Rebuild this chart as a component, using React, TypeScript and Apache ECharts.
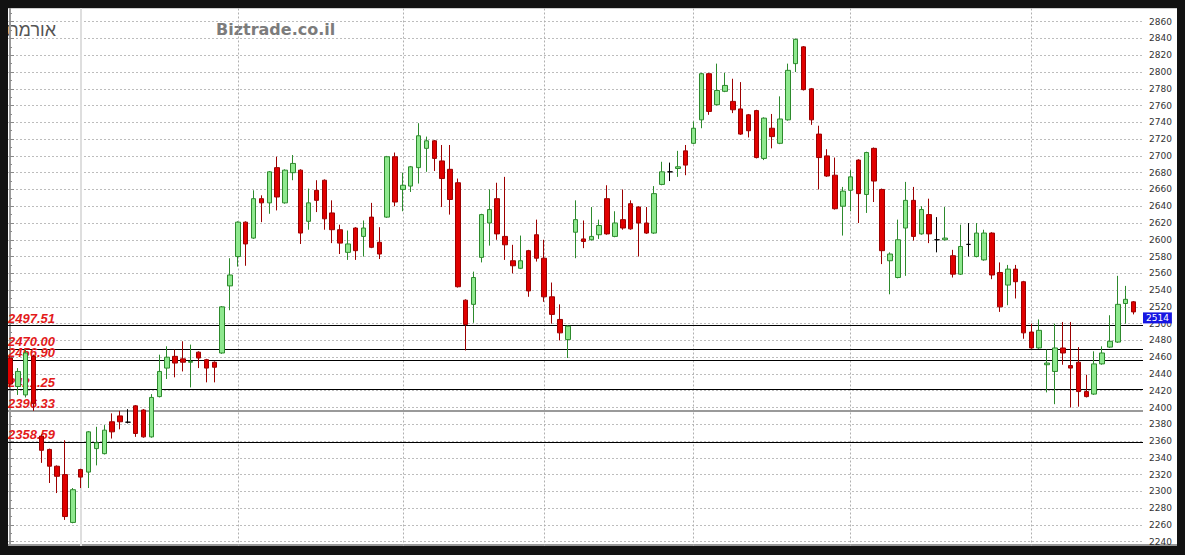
import { useEffect, useRef } from 'react';
import * as echarts from 'echarts';

// Daily candles, oldest first
const opens = [
  2459, 2425, 2415, 2461, 2366, 2350, 2330, 2320, 2263, 2326,
  2323, 2351, 2345, 2383, 2390, 2382.5, 2402, 2397, 2365, 2413,
  2447, 2461, 2458, 2454, 2466, 2457, 2454, 2465, 2545, 2580,
  2621, 2602, 2649, 2644, 2686, 2644, 2680, 2683, 2622, 2659,
  2671, 2632, 2612, 2585, 2614, 2604, 2627, 2597, 2627, 2699,
  2660, 2664, 2686, 2709, 2718, 2694, 2684, 2668, 2528, 2523,
  2579, 2620, 2649, 2604, 2575, 2566, 2587, 2606, 2578, 2532,
  2505, 2481, 2609, 2601, 2600, 2606, 2649, 2604, 2624, 2643,
  2639, 2620, 2608, 2666, 2681, 2685, 2706, 2715, 2743, 2798,
  2761, 2777, 2765, 2756, 2749, 2754, 2697, 2733, 2715, 2743,
  2810, 2830, 2780, 2726, 2700, 2677, 2640, 2659, 2695, 2654,
  2709, 2660, 2575, 2555, 2614, 2647, 2607, 2630, 2600, 2600,
  2581, 2559, 2594.5, 2580, 2576, 2608, 2561, 2546, 2565, 2550,
  2490, 2471, 2451, 2443, 2471, 2450, 2454, 2419, 2416, 2452,
  2472, 2478, 2524, 2526,
];
const closes = [
  2428, 2443, 2465, 2405, 2349, 2330, 2318, 2270, 2302, 2317,
  2371, 2358, 2373, 2371, 2383, 2382.5, 2369, 2365, 2412, 2443,
  2460, 2453, 2454, 2455, 2459, 2447, 2448, 2520, 2558, 2621,
  2595, 2649, 2644, 2681, 2651, 2683, 2691, 2608, 2644, 2647,
  2625, 2612, 2596, 2595, 2587, 2614, 2591, 2583, 2699, 2645,
  2665, 2687, 2724, 2718, 2697, 2673, 2648, 2544, 2499, 2555,
  2630, 2636, 2607, 2594, 2569, 2575, 2539, 2578, 2532, 2511,
  2489, 2497, 2624, 2598, 2604, 2617, 2607, 2620, 2614, 2613,
  2620, 2608, 2655, 2681, 2681, 2687, 2689, 2733, 2798, 2753,
  2778, 2784, 2755, 2726, 2730, 2698, 2745, 2723, 2744, 2802,
  2839, 2779, 2743, 2698, 2676, 2637, 2658, 2675, 2655, 2704,
  2670, 2587, 2583, 2600, 2647, 2604, 2636, 2607, 2600, 2602,
  2559, 2592, 2594.5, 2608, 2608, 2558, 2520, 2565, 2550, 2489,
  2471, 2492, 2453, 2471, 2465, 2447, 2419, 2413, 2452, 2465,
  2479, 2523, 2529, 2514,
];
const lows = [
  2424, 2415, 2412, 2396, 2334, 2310, 2298, 2266, 2262, 2304,
  2304, 2331, 2344, 2363, 2374, 2381, 2365, 2364, 2364, 2412,
  2434, 2436, 2443, 2424, 2447, 2430, 2430, 2464, 2516, 2568,
  2569, 2601, 2621, 2631, 2635, 2643, 2671, 2595, 2612, 2633,
  2612, 2596, 2583, 2576, 2576, 2580, 2590, 2577, 2626, 2640,
  2634, 2657, 2667, 2681, 2682, 2639, 2630, 2543, 2468, 2501,
  2573, 2593, 2600, 2576, 2560, 2565, 2532, 2574, 2526, 2500,
  2480, 2459, 2578, 2590, 2599, 2601, 2606, 2603, 2612, 2612,
  2580, 2607, 2607, 2665, 2670, 2675, 2677, 2714, 2733, 2749,
  2760, 2776, 2751, 2725, 2722, 2697, 2695, 2709, 2714, 2742,
  2800, 2778, 2737, 2660, 2675, 2636, 2605, 2634, 2620, 2632,
  2645, 2571, 2535, 2554, 2557, 2599, 2606, 2596, 2585, 2599,
  2555, 2558, 2580, 2579, 2575, 2553, 2514, 2522, 2530, 2482,
  2470, 2470, 2418, 2404, 2451, 2400, 2401, 2412, 2415, 2451,
  2471, 2477, 2500, 2511,
];
const highs = [
  2461, 2447, 2469, 2463, 2368, 2351, 2331, 2361, 2304, 2327,
  2372, 2377, 2379, 2393, 2396, 2398, 2403, 2398, 2416, 2463,
  2473, 2469, 2479, 2475, 2467, 2458, 2455, 2521, 2578, 2622,
  2622, 2659, 2653, 2682, 2699, 2684, 2701, 2684, 2661, 2671,
  2672, 2647, 2618, 2611, 2615, 2623, 2644, 2615, 2700, 2704,
  2680, 2688, 2739, 2723, 2719, 2713, 2713, 2673, 2529, 2562,
  2631, 2660, 2668, 2675, 2594, 2605, 2588, 2624, 2600, 2549,
  2523, 2498, 2647, 2623, 2639, 2624, 2665, 2634, 2660, 2647,
  2640, 2639, 2664, 2693, 2692, 2706, 2713, 2741, 2799, 2799,
  2810, 2799, 2792, 2788, 2750, 2755, 2746, 2750, 2771, 2810,
  2840, 2831, 2781, 2736, 2708, 2698, 2663, 2683, 2696, 2705,
  2710, 2661, 2585, 2624, 2669, 2663, 2640, 2649, 2627, 2639,
  2588, 2618, 2620, 2620, 2612, 2609, 2573, 2570, 2570, 2551,
  2500, 2505, 2469, 2500, 2502, 2502, 2472, 2439, 2467, 2473,
  2510, 2557, 2545, 2527,
];

// Candle index where each new month begins
const monthStarts = [9, 29, 50, 68, 87, 107, 130];
// Support / resistance levels
const levels = [2497.51, 2470.0, 2456.9, 2421.25, 2396.33, 2358.59];
const lastPrice = 2514;
// Price scale
const yMin = 2220;
const yMax = 2880;
const yStep = 20;

const symbolName = 'אורמת';
const siteName = 'Biztrade.co.il';

const candleData = opens.map((o, i) => {
  const item: any = { value: [i, o, closes[i], lows[i], highs[i]] };
  if (o === closes[i]) {
    item.itemStyle = { borderColor: '#000', borderColor0: '#000', color: '#000', color0: '#000' };
  }
  return item;
});

const levelLines = levels.map((v) => ({
  yAxis: v,
  lineStyle: v === 2396.33
    ? { color: '#9a9a9a', width: 2, type: 'solid' }
    : { color: '#000', width: 1, type: 'solid' },
  label: {
    show: true,
    position: 'insideStartTop',
    distance: [0, 1],
    formatter: v.toFixed(2),
    color: '#e31b1b',
    fontFamily: 'Liberation Sans',
    fontWeight: 'bold',
    fontStyle: 'italic',
    fontSize: 13,
  },
}));

const monthLines = monthStarts.map((x, k) => ({
  xAxis: x,
  lineStyle: k === 0
    ? { color: '#dedede', width: 2, type: 'solid' }
    : { color: '#b0b0b0', width: 1, type: [2, 2] },
  label: { show: false },
}));

const option: any = {
  animation: false,
  backgroundColor: 'transparent',
  grid: { left: 0, right: 34, top: 6.93, height: 553.55 },
  xAxis: {
    type: 'value',
    min: -0.2546,
    max: 144.21,
    show: false,
    splitLine: { show: false },
  },
  yAxis: {
    type: 'value',
    position: 'right',
    min: yMin,
    max: yMax,
    interval: yStep,
    axisLine: { show: true, lineStyle: { color: '#9a9a9a', width: 2 } },
    axisTick: { show: true, length: 4, lineStyle: { color: '#8a8a8a' } },
    minorTick: { show: true, splitNumber: 2, length: 2, lineStyle: { color: '#8a8a8a' } },
    axisLabel: {
      show: true,
      margin: 6,
      showMinLabel: false,
      showMaxLabel: false,
      color: '#333',
      fontFamily: 'DejaVu Sans',
      fontSize: 9,
      formatter: (v: number) => String(v),
    },
    splitLine: { show: true, lineStyle: { color: '#bdbdbd', width: 1, type: [2, 2] } },
  },
  graphic: [
    {
      type: 'text',
      x: 48,
      y: 31.5,
      silent: true,
      style: {
        text: symbolName,
        fill: '#555',
        font: '18px "Liberation Sans"',
        align: 'right',
        verticalAlign: 'middle',
      },
    },
    {
      type: 'text',
      x: 208,
      y: 31.5,
      silent: true,
      style: {
        text: siteName,
        fill: '#7c7c7c',
        font: 'bold 16px "DejaVu Sans"',
        align: 'left',
        verticalAlign: 'middle',
      },
    },
  ],
  series: [
    {
      type: 'candlestick',
      z: 2,
      barWidth: 5,
      silent: true,
      encode: { x: 0, y: [1, 2, 3, 4] },
      itemStyle: {
        color: '#8ee88e',
        color0: '#e00000',
        borderColor: '#2d8a2d',
        borderColor0: '#9c0000',
        borderColorDoji: '#000',
        borderWidth: 1,
      },
      data: candleData,
      markLine: {
        z: 1,
        silent: true,
        symbol: 'none',
        animation: false,
        data: [...monthLines, ...levelLines],
      },
    },
    {
      type: 'line',
      z: 5,
      silent: true,
      data: [],
      markLine: {
        z: 6,
        silent: true,
        symbol: 'none',
        animation: false,
        lineStyle: { color: 'rgba(0,0,0,0)', width: 1 },
        data: [
          {
            yAxis: lastPrice,
            label: {
              show: true,
              position: 'end',
              distance: 0,
              offset: [0, 6],
              formatter: String(lastPrice),
              backgroundColor: '#1616e2',
              color: '#fff',
              fontFamily: 'DejaVu Sans',
              fontSize: 9,
              lineHeight: 10,
              padding: [0, 3, 1, 3],
            },
          },
        ],
      },
    },
  ],
};

export default function App() {
  const ref = useRef<HTMLDivElement>(null);

  useEffect(() => {
    const el = ref.current;
    if (!el) return;
    const chart = echarts.init(el, undefined, { renderer: 'svg' });
    chart.setOption(option);
    return () => chart.dispose();
  }, []);

  return (
    <div
      style={{
        position: 'fixed',
        left: 0,
        top: 0,
        width: 1185,
        height: 555,
        background: '#121212',
      }}
    >
      <div
        style={{
          position: 'absolute',
          left: 8,
          top: 8,
          width: 1169,
          height: 538,
          background: '#fff',
          overflow: 'hidden',
          boxShadow: 'inset 0 1px 0 #cfcfcf, inset 0 -2px 0 #9a9a9a',
        }}
      >
        <div ref={ref} style={{ position: 'absolute', left: 0, top: -10, width: 1169, height: 580 }} />
      </div>
    </div>
  );
}
